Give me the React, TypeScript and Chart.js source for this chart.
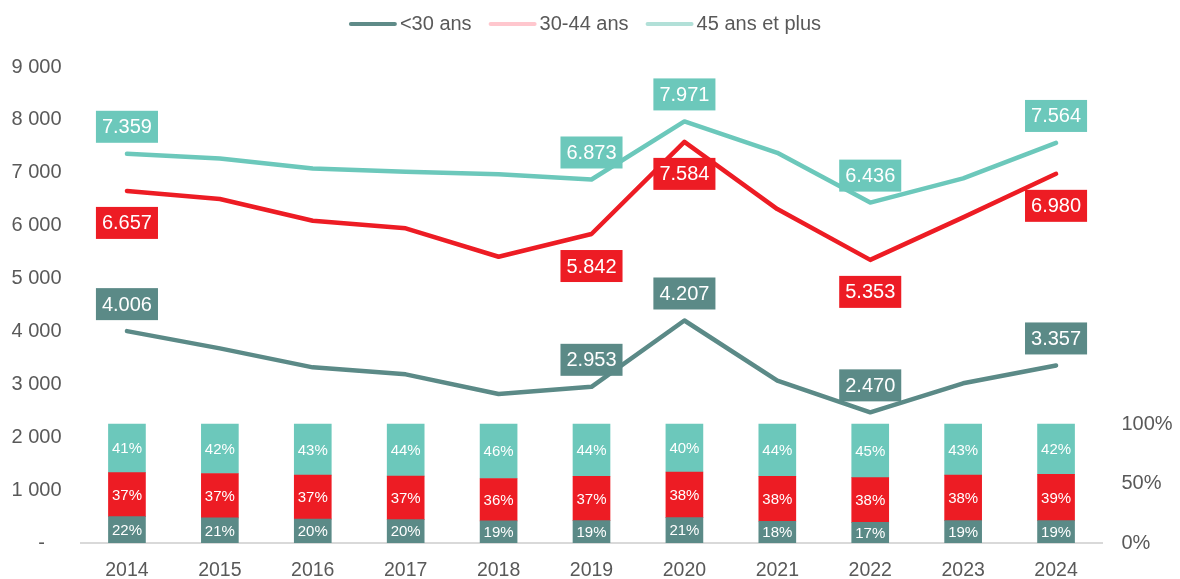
import React, { useEffect, useRef } from 'react';
import { Chart, registerables } from 'chart.js';

Chart.register(...registerables);

// ---------- data ----------
const years = ['2014', '2015', '2016', '2017', '2018', '2019', '2020', '2021', '2022', '2023', '2024'];
const seriesNames = ['<30 ans', '30-44 ans', '45 ans et plus'];
const under30 = [4006, 3680, 3321, 3189, 2817, 2953, 4207, 3069, 2470, 3019, 3357];
const age30to44 = [6657, 6503, 6093, 5949, 5412, 5842, 7584, 6314, 5353, 6157, 6980];
const age45plus = [7359, 7270, 7083, 7019, 6970, 6873, 7971, 7378, 6436, 6894, 7564];
// shares (%) shown in the stacked bars (labels are rounded)
const shareUnder30 = [22.2, 21.1, 20.1, 19.6, 18.6, 18.8, 21.3, 18.3, 17.3, 18.8, 18.8];
const share30to44 = [36.9, 37.3, 36.9, 36.6, 35.6, 37.3, 38.4, 37.7, 37.6, 38.3, 38.9];
const share45plus = [40.9, 41.6, 43.0, 43.8, 45.8, 43.9, 40.3, 44.0, 45.1, 42.9, 42.3];
const labelledYears = ['2014', '2019', '2020', '2022', '2024'];
const leftMax = 9000;
const leftStep = 1000;
const rightTicks = [0, 50, 100];
const rightMax = 400;

// ---------- styles ----------
const FONT = '"Liberation Sans", Arial, sans-serif';
const TEXT = '#595959';
const C_DARK = '#5b8a87';
const C_RED = '#ed1c24';
const C_LIGHT = '#6cc8bb';
const legendColors = ['#5f8b88', '#ffc7ce', '#b2e0d8'];
const labelSide = ['above', 'below', 'above'];

const fmtThousands = (v: number, sep: string) =>
  String(Math.round(v)).replace(/\B(?=(\d{3})+(?!\d))/g, sep);

const legendPlugin = {
  id: 'customLegend',
  afterDraw(chart: any) {
    const ctx = chart.ctx;
    ctx.save();
    ctx.font = `20px ${FONT}`;
    const sample = 48;
    const gapText = 3;
    const gapItem = 17;
    const widths = seriesNames.map((n) => ctx.measureText(n).width);
    const total = widths.reduce((s, w) => s + sample + gapText + w, 0) + gapItem * (seriesNames.length - 1);
    let x = 585 - total / 2;
    const y = 24;
    seriesNames.forEach((name, i) => {
      ctx.strokeStyle = legendColors[i];
      ctx.lineWidth = 4;
      ctx.lineCap = 'round';
      ctx.beginPath();
      ctx.moveTo(x + 2, y);
      ctx.lineTo(x + sample - 2, y);
      ctx.stroke();
      ctx.fillStyle = TEXT;
      ctx.textAlign = 'left';
      ctx.textBaseline = 'middle';
      ctx.fillText(name, x + sample + gapText, y);
      x += sample + gapText + widths[i] + gapItem;
    });
    ctx.restore();
  },
};

const labelsPlugin = {
  id: 'valueLabels',
  afterDatasetsDraw(chart: any) {
    const ctx = chart.ctx;
    ctx.save();
    // bar percentage labels
    ctx.font = `15px ${FONT}`;
    ctx.fillStyle = '#ffffff';
    ctx.textAlign = 'center';
    ctx.textBaseline = 'middle';
    [3, 4, 5].forEach((di) => {
      const meta = chart.getDatasetMeta(di);
      const data = chart.data.datasets[di].data as number[];
      meta.data.forEach((el: any, i: number) => {
        const cy = (el.y + el.base) / 2;
        ctx.fillText(`${Math.round(data[i])}%`, el.x, cy + 1);
      });
    });
    // line value boxes
    ctx.font = `20px ${FONT}`;
    [0, 1, 2].forEach((di) => {
      const meta = chart.getDatasetMeta(di);
      const ds = chart.data.datasets[di];
      const data = ds.data as number[];
      meta.data.forEach((el: any, i: number) => {
        if (!labelledYears.includes(years[i])) return;
        const txt = fmtThousands(data[i], '.');
        const w = ctx.measureText(txt).width + 12;
        const h = 32;
        const top = labelSide[di] === 'above' ? el.y - 11 - h : el.y + 16;
        ctx.fillStyle = ds.borderColor;
        ctx.fillRect(el.x - w / 2, top, w, h);
        ctx.fillStyle = '#ffffff';
        ctx.fillText(txt, el.x, top + h / 2 + 1);
      });
    });
    ctx.restore();
  },
};

export default function App() {
  const ref = useRef<HTMLCanvasElement>(null);

  useEffect(() => {
    if (!ref.current) return;
    const lineDs = (label: string, data: number[], color: string) => ({
      type: 'line' as const,
      label,
      data,
      borderColor: color,
      backgroundColor: color,
      borderWidth: 4.5,
      borderCapStyle: 'round' as const,
      borderJoinStyle: 'round' as const,
      pointRadius: 0,
      tension: 0,
      yAxisID: 'y',
      fill: false,
    });
    const barDs = (label: string, data: number[], color: string) => ({
      type: 'bar' as const,
      label,
      data,
      backgroundColor: color,
      borderWidth: 0,
      stack: 'shares',
      yAxisID: 'y2',
      barThickness: 37,
    });
    const chart = new Chart(ref.current, {
      data: {
        labels: years,
        datasets: [
          lineDs(seriesNames[0], under30, C_DARK),
          lineDs(seriesNames[1], age30to44, C_RED),
          lineDs(seriesNames[2], age45plus, C_LIGHT),
          barDs(seriesNames[0], shareUnder30, C_DARK),
          barDs(seriesNames[1], share30to44, C_RED),
          barDs(seriesNames[2], share45plus, C_LIGHT),
        ] as any,
      },
      options: {
        responsive: false,
        animation: false,
        layout: { padding: { top: 67, left: 0, right: 0, bottom: 0 } },
        plugins: {
          legend: { display: false },
          tooltip: { enabled: false },
        },
        scales: {
          x: {
            offset: true,
            grid: { display: false, drawTicks: false },
            border: { display: true, color: '#d9d9d9', width: 2 },
            ticks: { color: TEXT, font: { family: FONT, size: 19.5 }, padding: 16 },
            afterFit: (s: any) => { s.height = 36; },
          },
          y: {
            position: 'left',
            min: 0,
            max: leftMax,
            stacked: false,
            grid: { display: false, drawTicks: false },
            border: { display: false },
            ticks: {
              stepSize: leftStep,
              color: TEXT,
              font: { family: FONT, size: 20 },
              padding: 19,
              callback: (v: any) => (Number(v) === 0 ? '-   ' : fmtThousands(Number(v), ' ')),
            },
            afterFit: (s: any) => { s.width = 80.5; },
          },
          y2: {
            position: 'right',
            min: 0,
            max: rightMax,
            stacked: true,
            grid: { display: false, drawTicks: false },
            border: { display: false },
            afterBuildTicks: (s: any) => { s.ticks = rightTicks.map((v) => ({ value: v })); },
            ticks: {
              color: TEXT,
              font: { family: FONT, size: 20 },
              padding: 19,
              callback: (v: any) => `${v}%`,
            },
            afterFit: (s: any) => { s.width = 77.5; },
          },
        },
      } as any,
      plugins: [legendPlugin, labelsPlugin],
    });
    return () => chart.destroy();
  }, []);

  return (
    <div style={{ position: 'absolute', left: 0, top: 0, width: 1180, height: 579, background: '#fff' }}>
      <canvas ref={ref} width={1180} height={579} style={{ display: 'block' }} />
    </div>
  );
}
